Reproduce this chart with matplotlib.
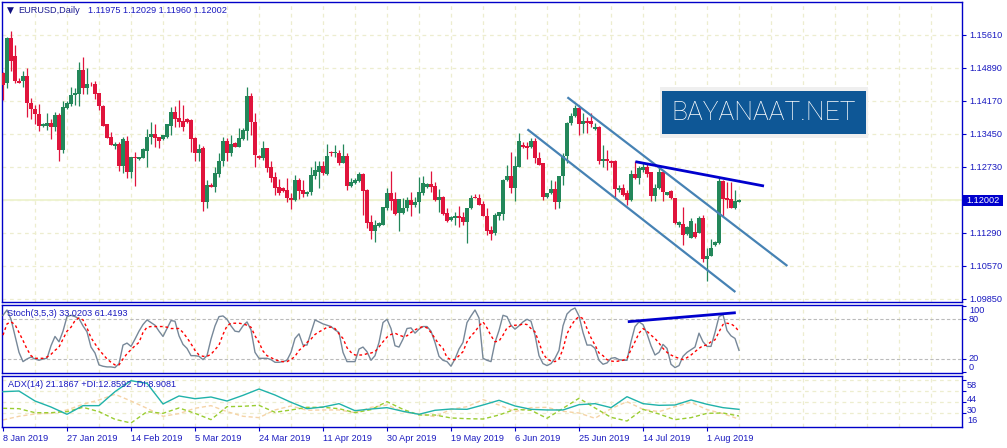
import matplotlib
matplotlib.use('Agg')
import matplotlib.pyplot as plt
import matplotlib.transforms as mtransforms
import numpy as np
from matplotlib.patches import Rectangle

# ---------------- data ----------------
opens = [
    1.1477, 1.1456, 1.1554, 1.1515, 1.1461, 1.1461, 1.1472, 1.1413, 1.1399, 1.1389,
    1.1362, 1.1363, 1.1370, 1.1361, 1.1386, 1.1311, 1.1401, 1.1411, 1.1429, 1.1433,
    1.1485, 1.1446, 1.1454, 1.1453, 1.1434, 1.1407, 1.1366, 1.1338, 1.1318, 1.1324,
    1.1276, 1.1330, 1.1263, 1.1294, 1.1291, 1.1293, 1.1308, 1.1338, 1.1344, 1.1338,
    1.1333, 1.1339, 1.1363, 1.1392, 1.1379, 1.1373, 1.1378, 1.1376, 1.1337, 1.1304,
    1.1314, 1.1197, 1.1234, 1.1230, 1.1257, 1.1286, 1.1330, 1.1304, 1.1326, 1.1317,
    1.1334, 1.1352, 1.1428, 1.1372, 1.1297, 1.1293, 1.1314, 1.1272, 1.1251, 1.1229,
    1.1227, 1.1223, 1.1206, 1.1200, 1.1245, 1.1223, 1.1214, 1.1218, 1.1254, 1.1263,
    1.1275, 1.1258, 1.1305, 1.1303, 1.1304, 1.1282, 1.1296, 1.1232, 1.1237, 1.1243,
    1.1258, 1.1223, 1.1153, 1.1133, 1.1145, 1.1147, 1.1183, 1.1217, 1.1203, 1.1172,
    1.1172, 1.1183, 1.1200, 1.1189, 1.1196, 1.1216, 1.1229, 1.1235, 1.1232, 1.1201,
    1.1208, 1.1173, 1.1157, 1.1162, 1.1166, 1.1164, 1.1154, 1.1183, 1.1208, 1.1205,
    1.1192, 1.1167, 1.1135, 1.1128, 1.1167, 1.1171, 1.1244, 1.1253, 1.1227, 1.1274,
    1.1321, 1.1319, 1.1317, 1.1330, 1.1292, 1.1281, 1.1208, 1.1216, 1.1225, 1.1197,
    1.1253, 1.1296, 1.1368, 1.1384, 1.1401, 1.1366, 1.1373, 1.1373, 1.1355, 1.1361,
    1.1285, 1.1290, 1.1285, 1.1285, 1.1223, 1.1227, 1.1216, 1.1201, 1.1258, 1.1248,
    1.1267, 1.1274, 1.1261, 1.1210, 1.1227, 1.1261, 1.1212, 1.1221, 1.1205, 1.1147,
    1.1148, 1.1126, 1.1119, 1.1132, 1.1130, 1.1161, 1.1072, 1.1079, 1.1103, 1.1107,
    1.1242, 1.1205, 1.1203, 1.1184, 1.11975]
highs = [
    1.1481, 1.1557, 1.1570, 1.1539, 1.1467, 1.1483, 1.1488, 1.1424, 1.1408, 1.1410,
    1.1368, 1.1391, 1.1377, 1.1392, 1.1390, 1.1416, 1.1416, 1.1447, 1.1445, 1.1501,
    1.1513, 1.1488, 1.1458, 1.1461, 1.1435, 1.1408, 1.1367, 1.1349, 1.1327, 1.1327,
    1.1339, 1.1341, 1.1295, 1.1306, 1.1294, 1.1314, 1.1356, 1.1371, 1.1366, 1.1339,
    1.1343, 1.1366, 1.1403, 1.1405, 1.1419, 1.1408, 1.1380, 1.1378, 1.1339, 1.1323,
    1.1318, 1.1245, 1.1237, 1.1272, 1.1303, 1.1339, 1.1336, 1.1343, 1.1328, 1.1357,
    1.1357, 1.1448, 1.1435, 1.1390, 1.1300, 1.1330, 1.1315, 1.1286, 1.1261, 1.1247,
    1.1230, 1.1248, 1.1216, 1.1255, 1.1248, 1.1245, 1.1221, 1.1272, 1.1285, 1.1287,
    1.1286, 1.1323, 1.1308, 1.1321, 1.1310, 1.1323, 1.1304, 1.1248, 1.1248, 1.1263,
    1.1260, 1.1224, 1.1168, 1.1157, 1.1154, 1.1186, 1.1228, 1.1264, 1.1219, 1.1204,
    1.1205, 1.1208, 1.1218, 1.1208, 1.1252, 1.1253, 1.1237, 1.1264, 1.1240, 1.1224,
    1.1209, 1.1183, 1.1167, 1.1175, 1.1188, 1.1174, 1.1184, 1.1212, 1.1213, 1.1214,
    1.1199, 1.1183, 1.1145, 1.1172, 1.1175, 1.1246, 1.1277, 1.1306, 1.1297, 1.1347,
    1.1328, 1.1328, 1.1336, 1.1336, 1.1305, 1.1282, 1.1217, 1.1245, 1.1243, 1.1254,
    1.1303, 1.1372, 1.1390, 1.1408, 1.1408, 1.1390, 1.1383, 1.1390, 1.1368, 1.1362,
    1.1321, 1.1310, 1.1288, 1.1288, 1.1234, 1.1236, 1.1223, 1.1267, 1.1285, 1.1276,
    1.1281, 1.1281, 1.1263, 1.1235, 1.1277, 1.1267, 1.1219, 1.1223, 1.1206, 1.1155,
    1.1186, 1.1145, 1.1162, 1.1150, 1.1167, 1.1168, 1.1096, 1.1116, 1.1111, 1.1249,
    1.1245, 1.1241, 1.1241, 1.1223, 1.12029]
lows = [
    1.1419, 1.1445, 1.1483, 1.1457, 1.1457, 1.1448, 1.1381, 1.1377, 1.1367, 1.1352,
    1.1360, 1.1354, 1.1335, 1.1352, 1.1287, 1.1303, 1.1399, 1.1406, 1.1408, 1.1406,
    1.1433, 1.1433, 1.1450, 1.1421, 1.1398, 1.1362, 1.1336, 1.1320, 1.1312, 1.1265,
    1.1259, 1.1248, 1.1248, 1.1232, 1.1289, 1.1292, 1.1274, 1.1323, 1.1316, 1.1315,
    1.1331, 1.1336, 1.1343, 1.1361, 1.1361, 1.1352, 1.1370, 1.1306, 1.1287, 1.1285,
    1.1176, 1.1184, 1.1229, 1.1219, 1.1251, 1.1276, 1.1285, 1.1297, 1.1317, 1.1317,
    1.1332, 1.1332, 1.1343, 1.1272, 1.1291, 1.1288, 1.1263, 1.1241, 1.1212, 1.1212,
    1.1218, 1.1196, 1.1182, 1.1199, 1.1204, 1.1207, 1.1210, 1.1212, 1.1246, 1.1228,
    1.1256, 1.1256, 1.1298, 1.1295, 1.1277, 1.1281, 1.1223, 1.1230, 1.1236, 1.1241,
    1.1168, 1.1139, 1.1116, 1.1110, 1.1143, 1.1146, 1.1179, 1.1179, 1.1168, 1.1133,
    1.1171, 1.1176, 1.1165, 1.1186, 1.1172, 1.1212, 1.1227, 1.1219, 1.1199, 1.1174,
    1.1168, 1.1154, 1.1155, 1.1146, 1.1142, 1.1146, 1.1107, 1.1182, 1.1205, 1.1189,
    1.1166, 1.1125, 1.1114, 1.1125, 1.1157, 1.1157, 1.1243, 1.1217, 1.1199, 1.1273,
    1.1314, 1.1290, 1.1314, 1.1281, 1.1277, 1.1201, 1.1206, 1.1215, 1.1181, 1.1183,
    1.1234, 1.1281, 1.1365, 1.1382, 1.1343, 1.1347, 1.1347, 1.1360, 1.1354, 1.1279,
    1.1274, 1.1267, 1.1274, 1.1208, 1.1219, 1.1210, 1.1190, 1.1199, 1.1247, 1.1235,
    1.1261, 1.1252, 1.1199, 1.1199, 1.1226, 1.1199, 1.1211, 1.1203, 1.1148, 1.1143,
    1.1103, 1.1125, 1.1118, 1.1119, 1.1129, 1.1066, 1.1024, 1.1078, 1.1101, 1.1106,
    1.1167, 1.1183, 1.1183, 1.1182, 1.11960]
closes = [
    1.1452, 1.1554, 1.1505, 1.1461, 1.1457, 1.1472, 1.1413, 1.1399, 1.1389, 1.1363,
    1.1366, 1.1370, 1.1361, 1.1386, 1.1311, 1.1404, 1.1413, 1.1430, 1.1435, 1.1485,
    1.1445, 1.1453, 1.1453, 1.1432, 1.1407, 1.1363, 1.1337, 1.1321, 1.1324, 1.1276,
    1.1334, 1.1263, 1.1294, 1.1292, 1.1294, 1.1312, 1.1338, 1.1344, 1.1337, 1.1330,
    1.1343, 1.1366, 1.1392, 1.1378, 1.1372, 1.1361, 1.1372, 1.1334, 1.1304, 1.1312,
    1.1197, 1.1233, 1.1230, 1.1259, 1.1286, 1.1330, 1.1304, 1.1323, 1.1317, 1.1336,
    1.1353, 1.1428, 1.1372, 1.1300, 1.1293, 1.1314, 1.1271, 1.1250, 1.1228, 1.1216,
    1.1221, 1.1205, 1.1202, 1.1245, 1.1221, 1.1214, 1.1219, 1.1256, 1.1267, 1.1275,
    1.1259, 1.1297, 1.1303, 1.1305, 1.1282, 1.1297, 1.1232, 1.1240, 1.1245, 1.1257,
    1.1221, 1.1150, 1.1134, 1.1147, 1.1150, 1.1185, 1.1217, 1.1199, 1.1171, 1.1203,
    1.1183, 1.1200, 1.1189, 1.1197, 1.1218, 1.1237, 1.1235, 1.1229, 1.1201, 1.1208,
    1.1170, 1.1155, 1.1164, 1.1165, 1.1162, 1.1154, 1.1183, 1.1205, 1.1206, 1.1190,
    1.1167, 1.1133, 1.1127, 1.1168, 1.1174, 1.1245, 1.1253, 1.1228, 1.1276, 1.1330,
    1.1317, 1.1315, 1.1330, 1.1292, 1.1277, 1.1208, 1.1216, 1.1225, 1.1197, 1.1253,
    1.1296, 1.1368, 1.1384, 1.1401, 1.1366, 1.1373, 1.1369, 1.1366, 1.1361, 1.1285,
    1.1290, 1.1285, 1.1281, 1.1225, 1.1228, 1.1212, 1.1201, 1.1258, 1.1248, 1.1270,
    1.1274, 1.1258, 1.1210, 1.1228, 1.1261, 1.1219, 1.1218, 1.1205, 1.1150, 1.1154,
    1.1125, 1.1143, 1.1155, 1.1121, 1.1161, 1.1072, 1.1079, 1.1097, 1.1110, 1.1242,
    1.1203, 1.1201, 1.1184, 1.1198, 1.12002]

stoch_k = [
    86, 94, 80, 55, 30, 16, 20, 23, 20, 18, 20, 21, 40, 54, 46, 62, 84, 86, 84, 81,
    70, 61, 38, 29, 11, 9, 8, 8, 7, 13, 41, 44, 39, 50, 62, 72, 79, 75, 71, 62,
    54, 66, 78, 77, 55, 42, 36, 25, 25, 24, 19, 25, 50, 70, 84, 85, 80, 70, 62, 61,
    70, 76, 64, 30, 21, 21, 21, 19, 15, 15, 16, 18, 30, 51, 58, 41, 41, 60, 79, 76,
    73, 71, 69, 64, 60, 30, 16, 16, 16, 35, 38, 31, 18, 25, 45, 75, 80, 66, 40, 38,
    50, 66, 67, 59, 65, 69, 69, 62, 45, 24, 18, 16, 9, 20, 35, 45, 75, 85, 94, 82,
    21, 18, 16, 45, 63, 86, 84, 71, 65, 70, 76, 80, 77, 56, 25, 13, 10, 13, 21, 33,
    70, 88, 94, 97, 85, 60, 41, 41, 36, 18, 12, 14, 21, 22, 19, 18, 18, 46, 69, 76,
    72, 58, 40, 26, 30, 42, 36, 12, 7, 10, 24, 30, 34, 38, 59, 46, 39, 39, 60, 84,
    87, 63, 55, 51, 33.02]
stoch_d = [
    56, 73, 76, 72, 60, 48, 35, 25, 21, 21, 21, 23, 27, 33, 38, 50, 62, 68, 78, 82,
    79, 67, 52, 43, 34, 27, 20, 15, 11, 11, 20, 28, 34, 40, 45, 60, 68, 69, 69, 69,
    69, 68, 66, 66, 66, 60, 52, 43, 33, 26, 24, 24, 27, 34, 41, 57, 70, 74, 74, 74,
    73, 71, 68, 55, 45, 32, 25, 22, 19, 17, 16, 16, 19, 24, 33, 38, 45, 50, 57, 61,
    64, 68, 68, 66, 58, 51, 37, 30, 26, 26, 26, 28, 29, 31, 38, 46, 53, 57, 59, 56,
    54, 55, 60, 64, 67, 69, 67, 60, 51, 42, 36, 22, 19, 19, 25, 31, 46, 55, 61, 70,
    76, 67, 55, 46, 47, 56, 67, 70, 71, 71, 73, 72, 66, 61, 45, 28, 20, 17, 16, 20,
    35, 58, 70, 79, 84, 81, 66, 52, 41, 29, 25, 19, 17, 16, 17, 18, 21, 34, 46, 59,
    66, 62, 56, 51, 44, 36, 30, 26, 23, 21, 19, 22, 26, 31, 36, 40, 41, 46, 49, 61,
    72, 74, 73, 69, 61.42]

# ADX(14) values read every 4th bar
adx_main = [43.3, 44.1, 31.6, 24.1, 15.0, 25.8, 25.8, 43.3, 57.0, 53.7, 27.9, 37.9,
            34.5, 36.6, 31.6, 38.7, 46.6, 39.1, 30.0, 22.0, 24.1, 28.3, 19.5, 21.6,
            23.3, 18.7, 15.0, 20.0, 21.6, 21.2, 26.6, 32.5, 25.4, 21.2, 20.4, 20.4,
            27.0, 28.3, 23.3, 37.0, 28.3, 26.2, 26.6, 32.9, 27.5, 23.3, 21.19]
plus_di = [22.5, 22.0, 17.0, 17.0, 18.3, 23.7, 18.3, 8.7, 4.1, 18.3, 16.2, 22.9,
           16.2, 8.3, 24.5, 25.0, 26.2, 17.5, 20.4, 23.7, 23.7, 22.0, 17.0, 20.8,
           30.8, 21.2, 14.1, 14.1, 10.4, 9.5, 9.1, 14.1, 21.2, 20.0, 10.0, 22.5,
           35.0, 22.9, 11.2, 6.6, 21.2, 15.4, 8.3, 10.8, 16.2, 16.6, 12.86]
minus_di = [7.9, 12.5, 15.4, 16.2, 20.4, 27.5, 32.9, 40.0, 31.6, 22.5, 12.5, 15.8,
            22.5, 25.8, 18.3, 12.5, 10.8, 20.4, 25.4, 20.0, 20.4, 20.4, 17.0, 23.7,
            26.6, 18.3, 15.4, 12.0, 21.2, 24.5, 33.3, 26.6, 18.3, 23.3, 23.7, 18.7,
            16.6, 10.0, 22.0, 30.8, 21.2, 18.3, 24.5, 30.0, 20.8, 15.8, 8.91]
adx_step = 4

# drawn objects: (bar index, value)
channel_upper = ([141.1, 196.1], [1.14251, 1.10570])
channel_lower = ([131.1, 183.1], [1.13552, 1.10002])
resistance_line = ([158.1, 190.25], [1.12846, 1.12315])
stoch_line = ([156.2, 183.2], [76.3, 89.9])

price_ticks = [1.15610, 1.14890, 1.14170, 1.13450, 1.12730, 1.12010, 1.11290, 1.10570, 1.09850]
price_tick_labels = ['1.15610', '1.14890', '1.14170', '1.13450', '1.12730', '', '1.11290', '1.10570', '1.09850']
current_price = 1.12002
date_labels = ['8 Jan 2019', '27 Jan 2019', '14 Feb 2019', '5 Mar 2019', '24 Mar 2019',
               '11 Apr 2019', '30 Apr 2019', '19 May 2019', '6 Jun 2019', '25 Jun 2019',
               '14 Jul 2019', '1 Aug 2019']
bars_per_label = 16
stoch_levels = [100, 80, 20, 0]
adx_levels = [58, 44, 30, 16]
title_symbol = 'EURUSD,Daily'
title_values = '1.11975 1.12029 1.11960 1.12002'
stoch_title = 'Stoch(3,5,3) 33.0203 61.4193'
adx_title = 'ADX(14) 21.1867 +DI:12.8592 -DI:8.9081'
watermark = 'BAYANAAT.NET'

# ---------------- styling ----------------
W, H = 1007, 448
BLUE = '#0000C8'
TXT = '#1A1AC0'
GREEN = '#23875A'
RED = '#E0143C'
GRID = '#EDEDCF'
FONT = ['Liberation Sans', 'DejaVu Sans']
FS = 6.6
plt.rcParams['font.family'] = FONT

fig = plt.figure(figsize=(W / 100, H / 100), dpi=100)
fig.patch.set_facecolor('white')


def fx(px):
    return px / W


def fy(py):
    return 1 - py / H


def panel(top, bottom):
    a = fig.add_axes([fx(2), fy(bottom), fx(962) - fx(2), fy(top) - fy(bottom)])
    a.set_facecolor('white')
    for s in a.spines.values():
        s.set_color(BLUE)
        s.set_linewidth(1.0)
    a.set_xlim(-0.25, 239.75)
    return a


ax = panel(2, 302)
axs = panel(304.5, 373)
axa = panel(375.5, 427)

n = len(closes)
idx = np.arange(n)
o = np.array(opens); h = np.array(highs); l = np.array(lows); c = np.array(closes)
up = c >= o
cols = np.where(up, GREEN, RED)

grid_x = np.arange(8, 240, 8)
for a in (ax, axs, axa):
    for gx in grid_x:
        a.axvline(gx, color=GRID, lw=0.9, ls=(0, (3, 3)), zorder=0)

# ---- main panel ----
ax.set_ylim(1.09784, 1.16330)
for p in price_ticks:
    ax.axhline(p, color=GRID, lw=0.9, ls=(0, (3, 3)), zorder=0)
ax.axhline(current_price, color='#EEF3CF', lw=1.3, zorder=1)
ax.vlines(idx, l, h, colors=cols, lw=0.9, zorder=3)
body_lo = np.minimum(o, c)
body_h = np.maximum(np.abs(c - o), 0.00018)
ax.bar(idx, body_h, bottom=body_lo, width=0.78, color=cols, linewidth=0, zorder=4)

ax.plot(*channel_upper, color='#4682B4', lw=1.6, zorder=5, solid_capstyle='butt')
ax.plot(*channel_lower, color='#4682B4', lw=1.6, zorder=5, solid_capstyle='butt')
ax.plot(*resistance_line, color='#0000CD', lw=2.0, zorder=6, solid_capstyle='butt')

ax.yaxis.tick_right()
ax.set_yticks(price_ticks)
ax.set_yticklabels(price_tick_labels)
ax.tick_params(axis='y', length=3, width=0.8, color=BLUE, labelsize=FS,
               labelcolor=TXT, pad=2, direction='out')
ax.set_xticks([])

# ---- stochastic ----
axs.set_ylim(-1.2, 102.3)
axs.axhline(80, color='#BBBBBB', lw=0.8, ls=(0, (3, 2)), zorder=1)
axs.axhline(20, color='#BBBBBB', lw=0.8, ls=(0, (3, 2)), zorder=1)
axs.plot(idx, stoch_k, color='#778899', lw=1.0, zorder=3)
axs.plot(idx, stoch_d, color='#FF0000', lw=1.0, ls=(0, (2, 2)), zorder=3)
axs.plot(*stoch_line, color='#0000CD', lw=2.0, zorder=5, solid_capstyle='butt')
axs.yaxis.tick_right()
axs.set_yticks(stoch_levels)
axs.set_yticklabels([str(v) for v in stoch_levels])
axs.tick_params(axis='y', length=3, width=0.8, color=BLUE, labelsize=FS,
                labelcolor=TXT, pad=2, direction='out')
for lab, va in zip(axs.get_yticklabels(), ['top', 'center', 'center', 'bottom']):
    lab.set_verticalalignment(va)
axs.set_xticks([])

# ---- ADX ----
axa.set_ylim(-0.9, 63.5)
for v in adx_levels:
    axa.axhline(v, color=GRID, lw=0.9, ls=(0, (3, 3)), zorder=0)
adx_x = np.arange(0, n, adx_step)
axa.plot(adx_x, minus_di, color='#F5D3A6', lw=1.0, ls=(0, (3, 2)), zorder=2)
axa.plot(adx_x, plus_di, color='#9ACD32', lw=1.0, ls=(0, (3, 2)), zorder=3)
axa.plot(adx_x, adx_main, color='#20B2AA', lw=1.0, zorder=4)
axa.yaxis.tick_right()
axa.set_yticks(adx_levels)
axa.set_yticklabels([''] * len(adx_levels))
axa.tick_params(axis='y', length=3, width=0.8, color=BLUE, labelsize=FS,
                labelcolor=TXT, pad=2, direction='out')
lab_tr = mtransforms.blended_transform_factory(axa.transAxes, axa.transData)
for v, dy in zip(adx_levels, [1.0, 3.5, 4.0, 3.0]):
    tr = lab_tr + mtransforms.ScaledTranslation(5 / 100, -dy / 100, fig.dpi_scale_trans)
    axa.text(1.0, v, str(v), transform=tr, fontsize=FS, color=TXT,
             ha='left', va='top', clip_on=False)
date_ticks = np.arange(len(date_labels)) * bars_per_label
axa.set_xticks(date_ticks)
axa.set_xticklabels(date_labels, ha='left')
axa.tick_params(axis='x', length=3, width=0.8, color=BLUE, labelsize=FS,
                labelcolor=TXT, pad=2, direction='out')

# ---- texts ----
fig.text(fx(6.5), fy(10.5), '\u25BC', fontsize=6.5, color='#101080', va='center', ha='left',
         family=['DejaVu Sans'])
fig.text(fx(18), fy(10.5), title_symbol, fontsize=FS, color='#1A1A90', va='center', ha='left')
fig.text(fx(88), fy(10.5), title_values, fontsize=FS, color=TXT, va='center', ha='left')
fig.text(fx(7), fy(313.5), stoch_title, fontsize=FS, color=TXT, va='center', ha='left')
fig.text(fx(8), fy(384.5), adx_title, fontsize=FS, color=TXT, va='center', ha='left')

# current price label
fig.add_artist(Rectangle((fx(962), fy(206)), fx(1003) - fx(962), fy(195.5) - fy(206),
                         transform=fig.transFigure, facecolor='#0000CD', edgecolor='none', zorder=10))
fig.text(fx(966), fy(200.8), '%.5f' % current_price, fontsize=FS, color='white',
         va='center', ha='left', zorder=11)

# watermark
fig.add_artist(Rectangle((fx(660), fy(138.3)), fx(868) - fx(660), fy(87.3) - fy(138.3),
                         transform=fig.transFigure, facecolor='#EFEFEF', edgecolor='none', zorder=10))
fig.add_artist(Rectangle((fx(661.7), fy(134)), fx(866) - fx(661.7), fy(90.7) - fy(134),
                         transform=fig.transFigure, facecolor='#0E5796', edgecolor='none', zorder=11))
fig.text(fx(764), fy(113), watermark, fontsize=19, color='white', va='center', ha='center',
         family=['Roboto', 'Liberation Sans'], fontweight='light', zorder=12)

fig.savefig('out.png', dpi=100, facecolor='white')
